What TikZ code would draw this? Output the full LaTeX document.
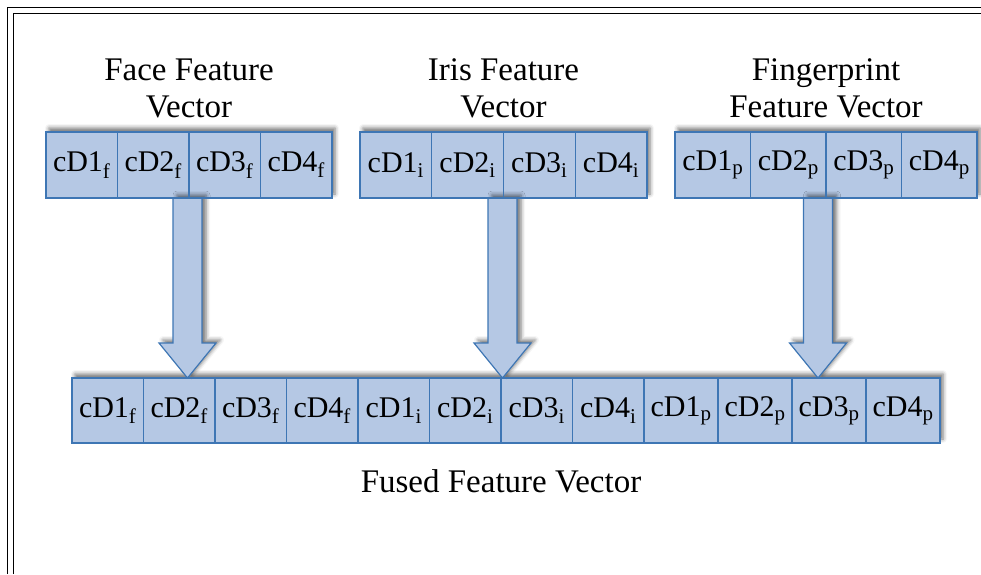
\documentclass[tikz,border=0pt]{standalone}
\usepackage{fontspec}
\setmainfont{Liberation Serif}
\usetikzlibrary{positioning,calc,backgrounds,shadows.blur}

\definecolor{cellfill}{RGB}{181,200,228}
\definecolor{cellline}{RGB}{62,118,180}

\tikzset{
  cell/.style={draw=cellline,line width=1.2pt,minimum height=66,
    inner sep=0pt,outer sep=0pt,font=\fontsize{30}{34}\selectfont},
  rowshadow/.style={fill=cellfill,blur shadow={shadow xshift=3pt,shadow yshift=4pt,
    shadow blur radius=4pt,shadow opacity=55}},
  bigarrow/.style={draw=cellline,fill=cellfill,line width=1.2pt,line join=miter,
    blur shadow={shadow xshift=4pt,shadow yshift=3pt,shadow blur radius=4pt,shadow opacity=55}},
  title/.style={align=center,inner sep=0pt,font=\fontsize{33}{37}\selectfont}
}

% arrow from a top point down to its tip
\newcommand{\fusearrow}[2]{%
  \path[bigarrow] ($(#1)+(-14.5,0)$) -- ($(#2)+(-14.5,35)$) -- ($(#2)+(-28.5,35)$)
    -- (#2) -- ($(#2)+(28.5,35)$) -- ($(#2)+(14.5,35)$) -- ($(#1)+(14.5,0)$) -- cycle;}

\begin{document}
\begin{tikzpicture}[x=1pt,y=1pt]
\useasboundingbox (0,0) rectangle (981,-574);
% frame
\draw[line width=1.8pt] (7.5,-574) |- (981,-7.5);
\draw[line width=1.8pt] (13.5,-574) |- (981,-13.5);

% face
\node[cell,minimum width=71.5,anchor=north west] (f1) at (46,-132) {cD1\textsubscript{f}};
\foreach \j/\i in {1/2,2/3,3/4}
  \node[cell,minimum width=71.5,right=0pt of f\j] (f\i) {cD\i\textsubscript{f}};
% iris
\node[cell,minimum width=71.75,anchor=north west] (i1) at (360,-132) {cD1\textsubscript{i}};
\foreach \j/\i in {1/2,2/3,3/4}
  \node[cell,minimum width=71.75,right=0pt of i\j] (i\i) {cD\i\textsubscript{i}};
% fingerprint
\node[cell,minimum width=75.5,anchor=north west] (p1) at (675,-132) {cD1\textsubscript{p}};
\foreach \j/\i in {1/2,2/3,3/4}
  \node[cell,minimum width=75.5,right=0pt of p\j] (p\i) {cD\i\textsubscript{p}};

% fused
\node[cell,minimum width=71.5,minimum height=65,anchor=north west] (u1) at (72,-378) {cD1\textsubscript{f}};
\foreach \n/\s/\w [count=\k from 2] in {2/f/71.5,3/f/71.5,4/f/71.5,1/i/71.5,2/i/71.5,3/i/71.5,4/i/71.5,
    1/p/74,2/p/74,3/p/74,4/p/74}{
  \pgfmathtruncatemacro\prev{\k-1}
  \node[cell,minimum width=\w,minimum height=65,right=0pt of u\prev] (u\k) {cD\n\textsubscript{\s}};
}

\node[title,above=14pt of f2.north east] (ft) {Face Feature\\Vector};
\node[title,above=14pt of i2.north east] (it) {Iris Feature\\Vector};
\node[title,above=14pt of p2.north east] (pt) {Fingerprint\\Feature Vector};
\node[title,below=26pt of u6.south east] (ut) {Fused Feature Vector};

\begin{pgfonlayer}{background}
  \path[rowshadow] (f1.south west) rectangle (f4.north east);
  \path[rowshadow] (i1.south west) rectangle (i4.north east);
  \path[rowshadow] (p1.south west) rectangle (p4.north east);
  \path[rowshadow] (u1.south west) rectangle (u12.north east);
  % arrows
  \coordinate (fa) at ($(f2.south east)+(-1.5,0)$);
  \coordinate (ia) at ($(i2.south east)+(-1,0)$);
  \coordinate (pa) at ($(p2.south east)+(-8,0)$);
  \fusearrow{fa}{fa |- u2.north}
  \fusearrow{ia}{ia |- u6.north}
  \fusearrow{pa}{pa |- u11.north}
\end{pgfonlayer}
\end{tikzpicture}
\end{document}
